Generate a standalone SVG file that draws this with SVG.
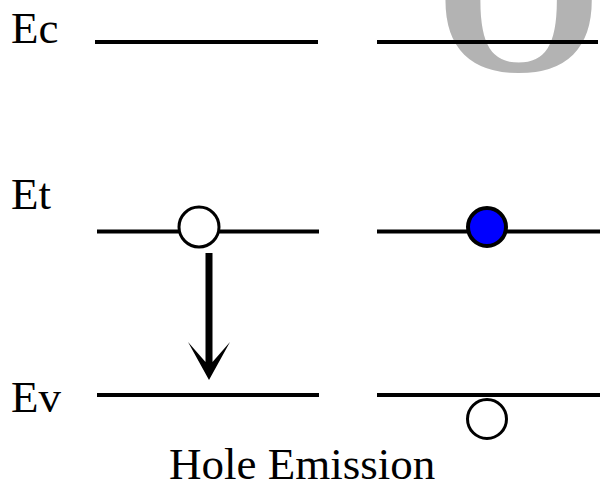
<svg xmlns="http://www.w3.org/2000/svg" width="606" height="491" viewBox="0 0 606 491">
<style>
.lbl{font-family:"Liberation Serif","Times New Roman",serif;font-size:45px;fill:#000}
.lvl{stroke:#000;stroke-width:4;fill:none}
.hole{fill:#fff;stroke:#000;stroke-width:3}
.elec{fill:#0000ff;stroke:#000;stroke-width:4}
</style>
<rect width="606" height="491" fill="#fff"/>
<text id="bigO" x="435" y="71" style="font-family:'Liberation Serif','Times New Roman',serif;font-weight:bold;font-size:215px;fill:#b3b3b3">O</text>
<g id="labels">
<text class="lbl" x="11" y="43">Ec</text>
<text class="lbl" x="11" y="209">Et</text>
<text class="lbl" x="11" y="412">Ev</text>
<text class="lbl" x="169" y="479">Hole Emission</text>
</g>
<g id="levels">
<line class="lvl" x1="95" y1="42" x2="318" y2="42"/>
<line class="lvl" x1="377" y1="42" x2="598" y2="42"/>
<line class="lvl" x1="97" y1="231.5" x2="319" y2="231.5"/>
<line class="lvl" x1="377" y1="231.5" x2="600" y2="231.5"/>
<line class="lvl" x1="97" y1="395" x2="319" y2="395"/>
<line class="lvl" x1="377" y1="395" x2="600" y2="395"/>
</g>
<g id="node-hole-trap"><circle class="hole" cx="199" cy="227" r="20"/></g>
<g id="node-electron-trap"><circle class="elec" cx="487" cy="227" r="19"/></g>
<g id="node-hole-valence"><circle class="hole" cx="487" cy="419" r="19.5"/></g>
<g id="connectors">
<path d="M205.5 253 H212.5 V362 L230 342 L209 380 L188 342 L205.5 362 Z" fill="#000"/>
</g>
</svg>
